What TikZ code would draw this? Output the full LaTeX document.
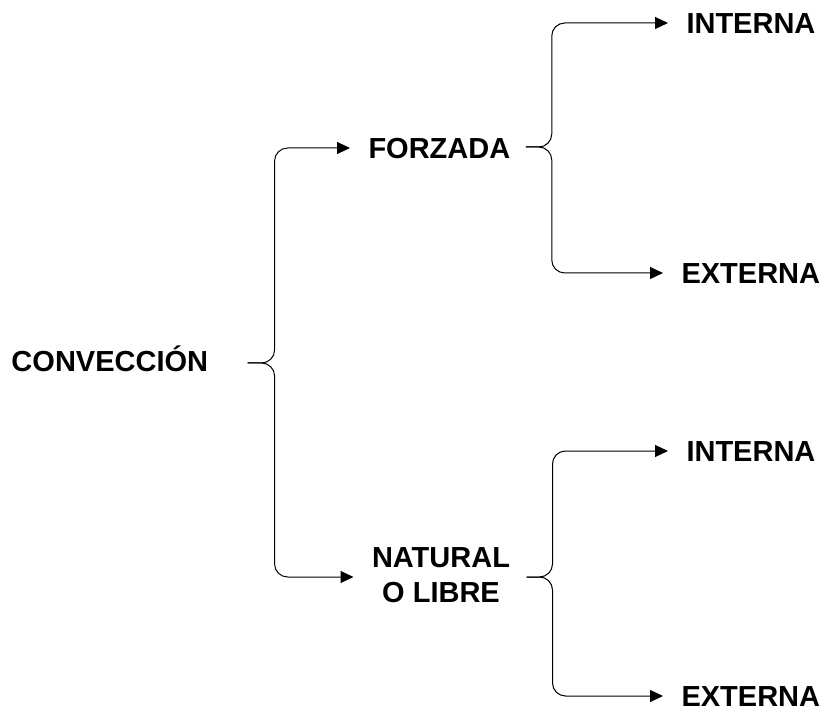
\documentclass[tikz,border=0pt]{standalone}
\usepackage{fontspec}
\setmainfont{Liberation Sans}
\usetikzlibrary{arrows.meta,positioning}

\begin{document}
\begin{tikzpicture}[x=1pt,y=1pt,line width=1pt,
		>={Triangle[length=13pt,width=12pt]},
		word/.style={font=\fontsize{29}{35}\selectfont\bfseries,inner sep=0pt},
		oneline/.style={word,text height=21pt,text depth=0pt,anchor=west},
		branch/.style={->,rounded corners=13pt,shorten >=18pt}]
	\useasboundingbox (0,0) rectangle (827,713);
	% textos
	\node[oneline] (conv) at (11,352) {CONVECCIÓN};
	\node[oneline] (forz) at (368,565) {FORZADA};
	\node[word,align=center] (natural) at (441,138) {NATURAL\\O LIBRE};
	\node[oneline] (int1) at (686,690) {INTERNA};
	\node[oneline] (ext1) at (681,440) {EXTERNA};
	\node[oneline] (int2) at (686,262) {INTERNA};
	\node[oneline] (ext2) at (681,17) {EXTERNA};
	% llaves
	\coordinate (t0) at ([xshift=39pt,yshift=-2pt]conv.east);
	\coordinate (v0) at ([xshift=27pt]t0);
	\coordinate (t1) at ([xshift=15pt,yshift=1pt]forz.east);
	\coordinate (v1) at ([xshift=26pt]t1);
	\coordinate (t2) at ([xshift=16pt,yshift=-2pt]natural.east);
	\coordinate (v2) at ([xshift=26pt]t2);
	\draw[branch] (t0) -- (v0) |- (forz.west);
	\draw[branch] (t0) -- (v0) |- ([yshift=-2pt]natural.west);
	\draw[branch] (t1) -- (v1) |- (int1.west);
	\draw[branch] (t1) -- (v1) |- (ext1.west);
	\draw[branch] (t2) -- (v2) |- (int2.west);
	\draw[branch] (t2) -- (v2) |- (ext2.west);
\end{tikzpicture}
\end{document}
